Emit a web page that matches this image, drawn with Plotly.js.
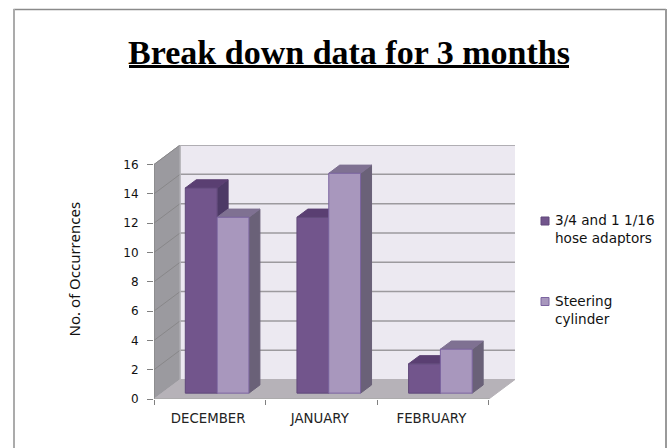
<!DOCTYPE html>
<html><head><meta charset="utf-8">
<script src="https://cdn.plot.ly/plotly-3.0.1.min.js"></script>
<style>html,body{margin:0;padding:0;background:#fff}</style></head>
<body><div id="chart" style="width:670px;height:448px"></div>
<script>
const categories = ["DECEMBER", "JANUARY", "FEBRUARY"];
const seriesNames = ["3/4 and 1 1/16<br>hose adaptors", "Steering<br>cylinder"];
const adaptors = [14, 12, 2];
const steering = [12, 15, 3];
const yTicks = [0, 2, 4, 6, 8, 10, 12, 14, 16];

const L = 154, R = 515, T = 145, B = 399;
const px = p => (p - L) / (R - L), py = p => (B - p) / (B - T);
const depthX = 0.234, depthY = 1.33, xMin = -0.5, xMax = 2.5, yTop = 16;
const barW = 0.285, barFx = 0.28, barDx = 0.42;
const path = pts => "M" + pts.map(p => p[0] + "," + p[1]).join("L") + "Z";
const poly = (pts, fill, lc, lw) => ({type: "path", layer: "below", xref: "x", yref: "y", path: path(pts),
  fillcolor: fill, line: {color: lc || fill, width: lw === undefined ? 1 : lw}});
const seg = (a, b, c, w) => ({type: "line", layer: "below", xref: "x", yref: "y", x0: a[0], y0: a[1], x1: b[0], y1: b[1], line: {color: c, width: w}});

const shapes = [];
shapes.push(poly([[xMin + depthX, depthY], [xMax + depthX, depthY], [xMax + depthX, yTop + depthY], [xMin + depthX, yTop + depthY]], "#ece9f1"));
shapes.push(poly([[xMin, 0], [xMin + depthX, depthY], [xMin + depthX, yTop + depthY], [xMin, yTop]], "#9b9a9f"));
shapes.push(poly([[xMin, 0], [xMax, 0], [xMax + depthX, depthY], [xMin + depthX, depthY]], "#b6b2b8"));
yTicks.forEach(v => {
  if (v > 0) shapes.push(seg([xMin + depthX, v + depthY], [xMax + depthX, v + depthY], "#9c9a9e", 1.5));
  if (v > 0) shapes.push(seg([xMin, v], [xMin + depthX, v + depthY], "#888789", 1));
});
shapes.push(seg([xMin + depthX, depthY], [xMin + depthX, yTop + depthY], "#bdbcc0", 1));
shapes.push(seg([xMin, 0], [xMax, 0], "#a8a8a8", 1.5));
shapes.push(seg([xMin, 0], [xMin, yTop], "#808080", 1));

const baseY = 0.3 * depthY, offX = barFx * depthX, dX = barDx * depthX, dY = barDx * depthY;
const faces = [
  {vals: adaptors, sgn: -1, top: "#5a3f72", side: "#4d3a66"},
  {vals: steering, sgn: 1, top: "#7f7192", side: "#6a6178"}
];
categories.forEach((_, i) => {
  faces.forEach(f => {
    const xr = i + offX + (f.sgn > 0 ? barW : 0), h = f.vals[i] + baseY;
    shapes.push(poly([[xr, baseY], [xr + dX, baseY + dY], [xr + dX, h + dY], [xr, h]], f.side));
    shapes.push(poly([[xr - barW, h], [xr, h], [xr + dX, h + dY], [xr - barW + dX, h + dY]], f.top));
  });
});
// title underline and legend swatches (paper coordinates)
shapes.push({type: "line", xref: "paper", yref: "paper", x0: px(129), x1: px(569), y0: py(66.5), y1: py(66.5), line: {color: "#000", width: 3}});
const swatch = (y, c, lc) => ({type: "rect", xref: "paper", yref: "paper", x0: px(541), x1: px(549), y0: py(y - 4), y1: py(y + 4), fillcolor: c, line: {color: lc, width: 1}});
shapes.push(swatch(221, "#72558c", "#60497a"));
shapes.push(swatch(301.5, "#a897bd", "#7b64a0"));
// chart frame
const frame = (x0, y0, x1, y1, c, w) => ({type: "line", xref: "paper", yref: "paper", x0: px(x0), x1: px(x1), y0: py(y0), y1: py(y1), line: {color: c, width: w}});
shapes.push(frame(13.5, 9.5, 666, 9.5, "#8a8a8a", 1.5));
shapes.push(frame(666, 9, 666, 448, "#9a9a9a", 2));
shapes.push(frame(14, 9, 14, 448, "#ababab", 2));

const traces = [
  {type: "bar", name: seriesNames[0], x: categories.map((_, i) => i + offX - barW / 2), y: adaptors, base: baseY, width: barW, marker: {color: "#72558c", line: {color: "#60497a", width: 1}}, showlegend: false},
  {type: "bar", name: seriesNames[1], x: categories.map((_, i) => i + offX + barW / 2), y: steering, base: baseY, width: barW, marker: {color: "#a897bd", line: {color: "#7b64a0", width: 1}}, showlegend: false}
];
const annot = (x, y, t, o) => Object.assign({xref: "paper", yref: "paper", x: px(x), y: py(y), text: t, showarrow: false, xanchor: "left", yanchor: "middle", align: "left",
  font: {family: "'DejaVu Sans', sans-serif", size: 13.6, color: "#111"}}, o || {});
const layout = {
  width: 670, height: 448, margin: {l: L, r: 670 - R, t: T, b: 448 - B}, paper_bgcolor: "#fff", plot_bgcolor: "rgba(0,0,0,0)",
  barmode: "overlay", showlegend: false, shapes,
  title: {text: "<b>Break down data for 3 months</b>", x: px(349), xanchor: "center", xref: "paper", y: 1 - 52 / 448, yanchor: "middle", yref: "container", font: {family: "'Liberation Serif', serif", size: 34, color: "#000"}},
  xaxis: {range: [xMin, xMax + depthX], tickmode: "array", tickvals: [-0.015, 0.985, 1.985], ticktext: categories, ticks: "", showgrid: false, zeroline: false, showline: false,
    minor: {tickmode: "array", tickvals: [-0.5, 0.5, 1.5, 2.5], ticks: "outside", ticklen: 5, tickcolor: "#808080", showgrid: false},
    tickfont: {family: "'DejaVu Sans', sans-serif", size: 13.3, color: "#222"}, ticklabelstandoff: 10},
  yaxis: {range: [0, (B - T) / ((399 - 164.5) / 16)], tickmode: "array", tickvals: yTicks, ticks: "outside", ticklen: 6, tickcolor: "#808080", showgrid: false, zeroline: false, showline: false,
    tickfont: {family: "'DejaVu Sans', sans-serif", size: 12, color: "#111"}, ticklabelstandoff: 6},
  annotations: [
    annot(553, 229, seriesNames[0]),
    annot(553, 310, seriesNames[1]),
    annot(73, 269.5, "No. of Occurrences", {textangle: -90, xanchor: "center", font: {family: "'Noto Sans', sans-serif", size: 15, color: "#111"}})
  ]
};
Plotly.newPlot("chart", traces, layout, {displayModeBar: false});
</script></body></html>
